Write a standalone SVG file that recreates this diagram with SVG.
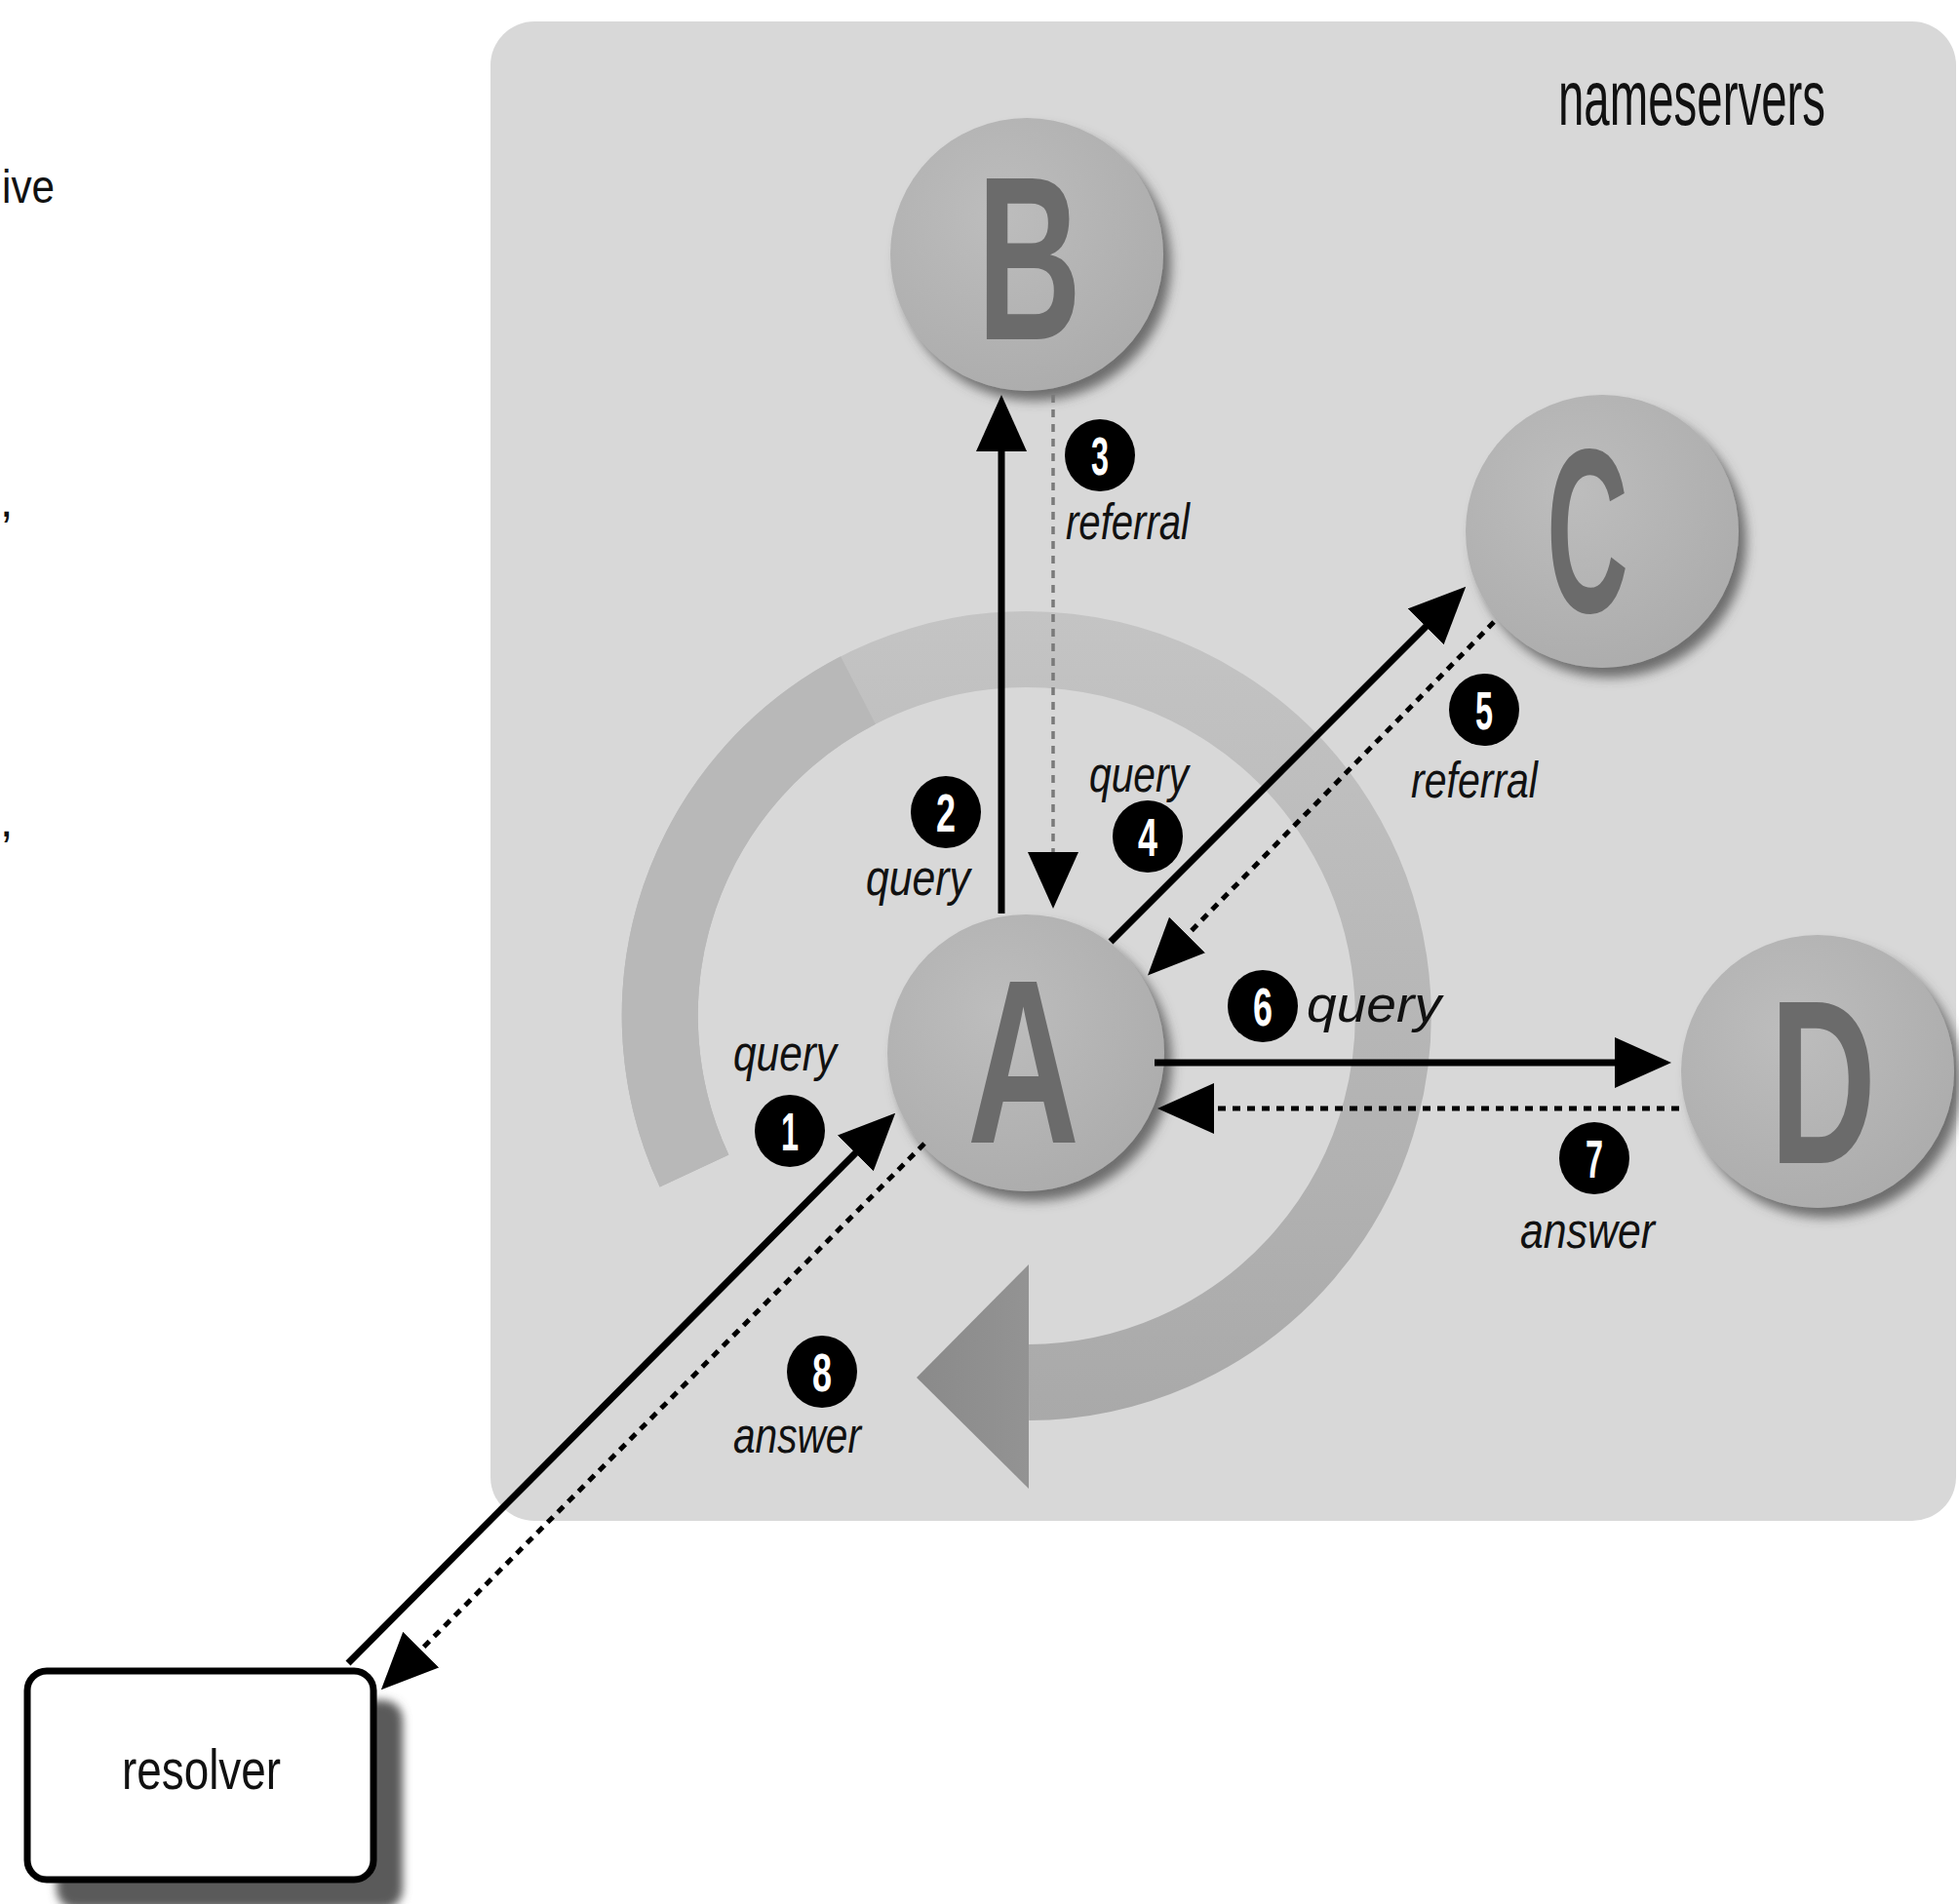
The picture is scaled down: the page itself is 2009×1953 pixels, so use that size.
<svg xmlns="http://www.w3.org/2000/svg" width="2009" height="1953" viewBox="0 0 2009 1953">
<style>
.lbl{font-family:"Liberation Sans",Arial,sans-serif;font-style:italic;font-size:52px;fill:#111}
.big{font-family:"Liberation Sans",Arial,sans-serif;font-weight:bold;font-size:240px;fill:#6b6b6b}
.num{font-family:"Liberation Sans",Arial,sans-serif;font-weight:bold;font-size:56px;fill:#fff;text-anchor:middle}
.plain{font-family:"Liberation Sans",Arial,sans-serif;fill:#111}
.node{fill:url(#cg);filter:url(#sh)}
.solid{stroke:#000;stroke-width:7;fill:none;marker-end:url(#ah)}
.dd{stroke:#000;stroke-width:5;fill:none;stroke-dasharray:8 7;marker-end:url(#ah)}
.thin{stroke:#7a7a7a;stroke-width:3.5;fill:none;stroke-dasharray:8 7;marker-end:url(#ah)}
.badge{fill:#000}
</style>
<defs>
<radialGradient id="cg" cx="0.4" cy="0.35" r="0.7">
<stop offset="0" stop-color="#bdbdbd"/>
<stop offset="1" stop-color="#acacac"/>
</radialGradient>
<linearGradient id="rg" gradientUnits="userSpaceOnUse" x1="0" y1="627" x2="0" y2="1460">
<stop offset="0" stop-color="#c4c4c4"/>
<stop offset="1" stop-color="#a9a9a9"/>
</linearGradient>
<linearGradient id="ag" x1="0" y1="0" x2="1" y2="0">
<stop offset="0" stop-color="#8a8a8a"/>
<stop offset="1" stop-color="#939393"/>
</linearGradient>
<filter id="sh" x="-20%" y="-20%" width="150%" height="150%">
<feDropShadow dx="8" dy="10" stdDeviation="6" flood-color="#4a4a4a" flood-opacity="0.75"/>
</filter>
<filter id="bl" x="-10%" y="-10%" width="130%" height="130%">
<feGaussianBlur stdDeviation="5"/>
</filter>
<marker id="ah" markerUnits="userSpaceOnUse" markerWidth="60" markerHeight="54" refX="28" refY="26" orient="auto">
<path d="M0,0 L58,26 L0,52 Z" fill="#000"/>
</marker>
</defs>
<rect width="2009" height="1953" fill="#fff"/>
<g id="fragments">
<text class="plain" x="2" y="208" font-size="48" textLength="54" lengthAdjust="spacingAndGlyphs">ive</text>
<text class="plain" x="0" y="530" font-size="48">,</text>
<text class="plain" x="0" y="858" font-size="48">,</text>
</g>
<g id="nameservers">
<rect x="503" y="22" width="1503" height="1538" rx="45" fill="#d8d8d8"/>
<text class="plain" transform="translate(1598,128) scale(1,1.65)" x="0" y="0" font-size="48" textLength="274" lengthAdjust="spacingAndGlyphs">nameservers</text>
</g>
<g id="cycle">
<path d="M712,1201 A376,376 0 1 1 1055,1418" fill="none" stroke="url(#rg)" stroke-width="78"/>
<path d="M712,1201 A376,376 0 0 1 880,708" fill="none" stroke="#b8b8b8" stroke-width="78"/>
<polygon points="1055,1297 1055,1527 940,1413" fill="url(#ag)"/>
</g>
<g id="node-B">
<circle class="node" cx="1053" cy="261" r="140"/>
<text class="big" x="1002" y="348" textLength="107" lengthAdjust="spacingAndGlyphs">B</text>
</g>
<g id="node-C">
<circle class="node" cx="1643" cy="545" r="140"/>
<text class="big" x="1586" y="628" textLength="84" lengthAdjust="spacingAndGlyphs">C</text>
</g>
<g id="node-A">
<circle class="node" cx="1052" cy="1080" r="142"/>
<text class="big" x="992" y="1172" textLength="115" lengthAdjust="spacingAndGlyphs">A</text>
</g>
<g id="node-D">
<circle class="node" cx="1864" cy="1099" r="140"/>
<text class="big" x="1815" y="1193" textLength="109" lengthAdjust="spacingAndGlyphs">D</text>
</g>
<g id="node-resolver">
<rect x="58" y="1744" width="355" height="214" rx="20" fill="#5a5a5a" filter="url(#bl)"/>
<rect x="28" y="1714" width="355" height="214" rx="20" fill="#fff" stroke="#000" stroke-width="7"/>
<text class="plain" x="125" y="1835" font-size="57" textLength="163" lengthAdjust="spacingAndGlyphs">resolver</text>
</g>
<g id="connectors">
<line class="solid" x1="357" y1="1706" x2="897" y2="1163"/>
<line class="solid" x1="1027" y1="937" x2="1027" y2="435"/>
<line class="thin" x1="1080" y1="405" x2="1080" y2="902"/>
<line class="solid" x1="1139" y1="966" x2="1482" y2="623"/>
<line class="dd" x1="1532" y1="638" x2="1198" y2="979"/>
<line class="solid" x1="1184" y1="1090" x2="1684" y2="1090"/>
<line class="dd" x1="1722" y1="1137" x2="1217" y2="1137"/>
<line class="dd" x1="948" y1="1173" x2="412" y2="1712"/>
</g>
<g id="labels">
<ellipse class="badge" cx="810" cy="1160" rx="36" ry="37"/><text class="num" x="810" y="1180" textLength="18" lengthAdjust="spacingAndGlyphs">1</text>
<text class="lbl" x="752" y="1098" textLength="106" lengthAdjust="spacingAndGlyphs">query</text>
<ellipse class="badge" cx="970" cy="833" rx="36" ry="37"/><text class="num" x="970" y="853" textLength="20" lengthAdjust="spacingAndGlyphs">2</text>
<text class="lbl" x="888" y="918" textLength="107" lengthAdjust="spacingAndGlyphs">query</text>
<ellipse class="badge" cx="1128" cy="467" rx="36" ry="37"/><text class="num" x="1128" y="487" textLength="18" lengthAdjust="spacingAndGlyphs">3</text>
<text class="lbl" x="1093" y="553" textLength="127" lengthAdjust="spacingAndGlyphs">referral</text>
<ellipse class="badge" cx="1177" cy="858" rx="36" ry="37"/><text class="num" x="1177" y="878" textLength="20" lengthAdjust="spacingAndGlyphs">4</text>
<text class="lbl" x="1117" y="812" textLength="102" lengthAdjust="spacingAndGlyphs">query</text>
<ellipse class="badge" cx="1522" cy="728" rx="36" ry="37"/><text class="num" x="1522" y="748" textLength="18" lengthAdjust="spacingAndGlyphs">5</text>
<text class="lbl" x="1447" y="818" textLength="130" lengthAdjust="spacingAndGlyphs">referral</text>
<ellipse class="badge" cx="1295" cy="1032" rx="36" ry="37"/><text class="num" x="1295" y="1052" textLength="20" lengthAdjust="spacingAndGlyphs">6</text>
<text class="lbl" x="1340" y="1048" textLength="138" lengthAdjust="spacingAndGlyphs">query</text>
<ellipse class="badge" cx="1635" cy="1188" rx="36" ry="37"/><text class="num" x="1635" y="1208" textLength="18" lengthAdjust="spacingAndGlyphs">7</text>
<text class="lbl" x="1559" y="1280" textLength="138" lengthAdjust="spacingAndGlyphs">answer</text>
<ellipse class="badge" cx="843" cy="1407" rx="36" ry="37"/><text class="num" x="843" y="1427" textLength="20" lengthAdjust="spacingAndGlyphs">8</text>
<text class="lbl" x="752" y="1490" textLength="131" lengthAdjust="spacingAndGlyphs">answer</text>
</g>
</svg>
